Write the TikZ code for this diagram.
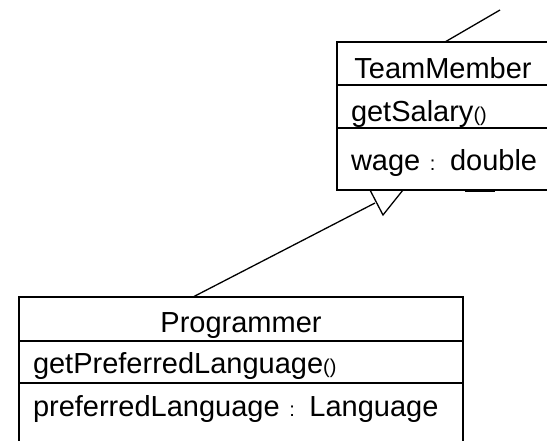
\documentclass[tikz,border=0pt]{standalone}
\usepackage{fontspec}
\setmainfont{Liberation Sans}
\usetikzlibrary{positioning}
\newcommand{\umlsmall}[1]{{\fontsize{20}{20}\selectfont #1}}

\begin{document}
\begin{tikzpicture}[x=1pt,y=-1pt,line width=1.3pt,
		every node/.style={font=\fontsize{29}{34}\selectfont},
		row/.style={draw,rectangle,inner xsep=14pt,inner ysep=0pt,outer sep=0pt,align=left,anchor=north west}]
				\useasboundingbox (0,0) rectangle (547,440);
				\clip (0,0) rectangle (547,440);
				% TeamMember
				\node[row,text width=184pt,align=center,text height=36pt,text depth=7pt] (tm) at (337,42){TeamMember};
				\node[row,text width=184pt,text height=36.7pt,text depth=6.3pt,below=0pt of tm] (tmops){\mbox{getSalary\umlsmall{()}}};
				\node[row,text width=184pt,text height=42pt,text depth=20pt,below=0pt of tmops] (tmattr){\mbox{wage \umlsmall{:} double}};
				% Programmer
				\node[row,text width=416pt,align=center,text height=35.7pt,text depth=8.3pt] (prog) at (19,297){Programmer};
				\node[row,text width=416pt,text height=32pt,text depth=10pt,below=0pt of prog] (progops){\mbox{getPreferredLanguage\umlsmall{()}}};
				\node[row,text width=416pt,text height=33.7pt,text depth=60pt,below=0pt of progops] (progattr){\mbox{preferredLanguage \umlsmall{:} Language}};
				% generalization
				\coordinate (tri-l) at (370,190);
				\coordinate (tri-tip) at (383,215);
				\coordinate (tri-r) at (403,190);
				\coordinate (gen-end) at (375,203);
				\coordinate (up-end) at (500,10);
				\draw ([xshift=174pt]prog.north west)--(gen-end);
				\draw (tri-l)--(tri-tip)--(tri-r);
				\draw[line width=2.5pt] (tri-l)--(tri-r);
				\draw ([xshift=108pt]tm.north west)--(up-end);
				\draw[line width=2.5pt] (465,191)--(495,191);
				% \draw (tmattr.south west)--(tmattr.south east);
\end{tikzpicture}
\end{document}
